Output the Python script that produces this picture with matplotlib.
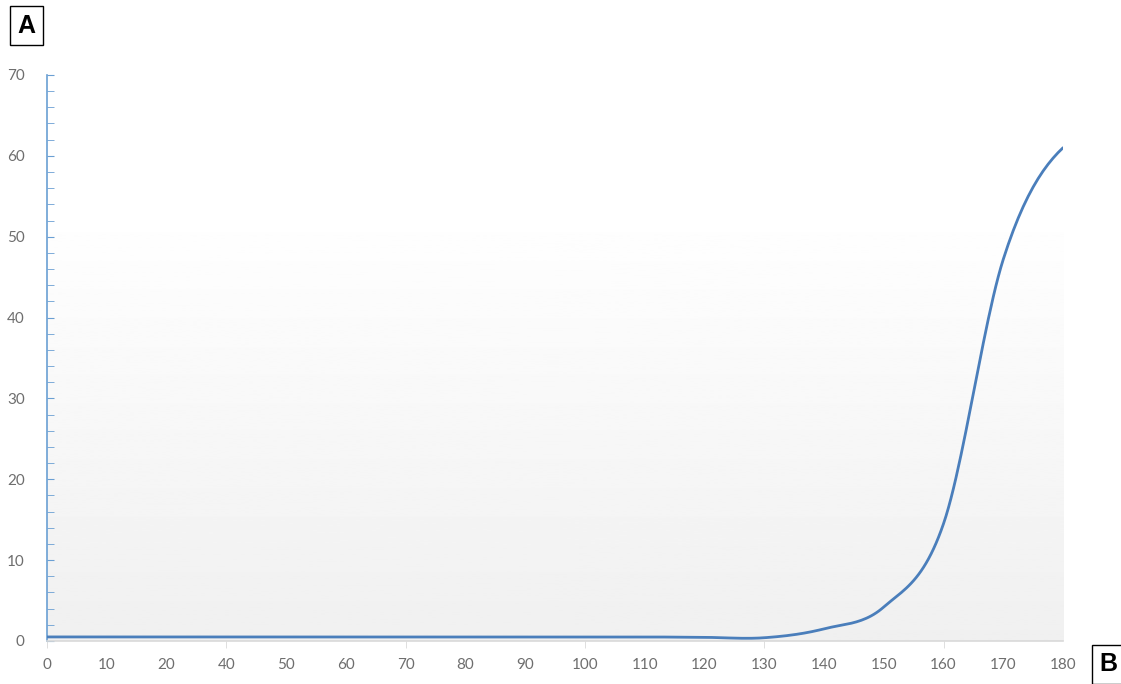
import numpy as np
import matplotlib
matplotlib.use("Agg")
import matplotlib.pyplot as plt

plt.rcParams["font.family"] = ["Lato", "DejaVu Sans"]

# category axis as in the original (note: no "30" label)
categories = ['0', '10', '20', '40', '50', '60', '70', '80', '90',
              '100', '110', '120', '130', '140', '150', '160', '170', '180']
values = [0.5, 0.5, 0.5, 0.5, 0.5, 0.5, 0.5, 0.5, 0.5,
          0.5, 0.5, 0.45, 0.4, 1.5, 4.2, 14.5, 47.2, 61.0]

line_color = '#4a7ebb'
label_color = '#6e6e6e'


def smooth(y, n=24):
    # Excel-style "smoothed line" (Catmull-Rom through the points)
    y = np.asarray(y, dtype=float)
    p = np.concatenate([[y[0]], y, [y[-1]]])
    xs, ys = [], []
    t = np.linspace(0, 1, n, endpoint=False)
    for i in range(len(y) - 1):
        p0, p1, p2, p3 = p[i], p[i + 1], p[i + 2], p[i + 3]
        seg = 0.5 * ((2 * p1) + (-p0 + p2) * t + (2 * p0 - 5 * p1 + 4 * p2 - p3) * t ** 2
                     + (-p0 + 3 * p1 - 3 * p2 + p3) * t ** 3)
        xs.append(i + t)
        ys.append(seg)
    xs.append([len(y) - 1])
    ys.append([y[-1]])
    return np.concatenate(xs), np.concatenate(ys)


fig = plt.figure(figsize=(11.21, 6.84), dpi=100)
ax = fig.add_axes([0.0419, 0.0629, 0.9064, 0.8275])

xpos = np.arange(len(categories))
ax.set_xlim(0, len(categories) - 1)
ax.set_ylim(0, 70)

# plot-area gradient (white at top, light grey at bottom)
grad = np.linspace(0.94, 1.0, 256).reshape(-1, 1)
ax.imshow(grad, extent=[0, len(categories) - 1, 0, 54], origin='lower', aspect='auto',
          cmap='gray', vmin=0, vmax=1, zorder=0)

sx, sy = smooth(values)
ax.plot(sx, sy, color=line_color, lw=2.0, solid_capstyle='round', zorder=3)

for s in ['top', 'right']:
    ax.spines[s].set_visible(False)
ax.spines['left'].set_color('#6a9fd3')
ax.spines['left'].set_linewidth(1.2)
ax.spines['bottom'].set_color('#d9d9d9')
ax.spines['bottom'].set_linewidth(1.2)

ax.set_yticks(np.arange(0, 71, 10))
ax.set_yticks(np.arange(0, 71, 2), minor=True)
ax.tick_params(axis='y', which='both', direction='in', length=5, color='#6a9fd3',
               labelcolor=label_color, labelsize=11, pad=16)

# labels on every category, small grey tick marks every third one
ax.xaxis.remove_overlapping_locs = False
ax.set_xticks(xpos)
ax.set_xticklabels(categories)
ax.set_xticks(xpos[::3], minor=True)
ax.tick_params(axis='x', which='major', length=0, labelcolor=label_color,
               labelsize=11, pad=12)
ax.tick_params(axis='x', which='minor', direction='out', length=5, color='#d9d9d9')

fig.text(0.0232, 0.962, 'A', fontsize=18, fontweight='bold', family=['Liberation Sans'],
         ha='center', va='center',
         bbox=dict(boxstyle='square,pad=0.3', fc='white', ec='black', lw=1))
fig.text(0.9885, 0.029, 'B', fontsize=18, fontweight='bold', family=['Liberation Sans'],
         ha='center', va='center',
         bbox=dict(boxstyle='square,pad=0.3', fc='white', ec='black', lw=1))

fig.savefig('out.png', dpi=100)
